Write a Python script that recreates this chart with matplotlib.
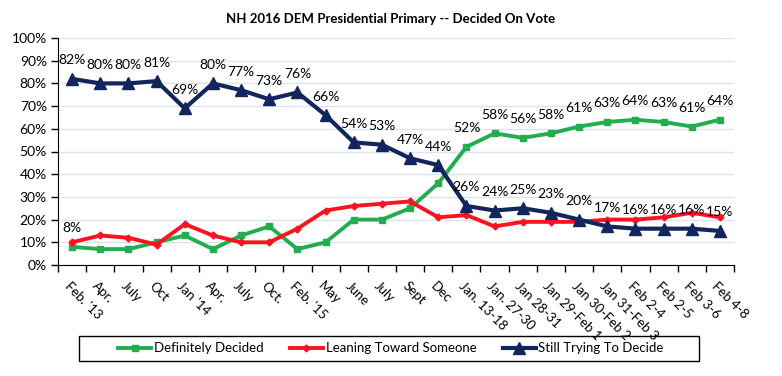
import matplotlib.pyplot as plt
from matplotlib.patches import Rectangle

# Категорії (хвилі опитування)
periods = ["Feb. '13", "Apr.", "July", "Oct", "Jan '14", "Apr.", "July", "Oct.",
           "Feb. '15", "May", "June", "July", "Sept", "Dec", "Jan. 13-18",
           "Jan. 27-30", "Jan 28-31", "Jan 29-Feb 1", "Jan 30-Feb 2",
           "Jan 31-Feb 3", "Feb 2-4", "Feb 2-5", "Feb 3-6", "Feb 4-8"]

definitely = [8, 7, 7, 10, 13, 7, 13, 17, 7, 10, 20, 20, 25, 36, 52,
              58, 56, 58, 61, 63, 64, 63, 61, 64]
leaning = [10, 13, 12, 9, 18, 13, 10, 10, 16, 24, 26, 27, 28, 21, 22,
           17, 19, 19, 19, 20, 20, 21, 23, 21]
still_deciding = [82, 80, 80, 81, 69, 80, 77, 73, 76, 66, 54, 53, 47, 44, 26,
                  24, 25, 23, 20, 17, 16, 16, 16, 15]

GREEN = '#23ad4f'
RED = '#fb1420'
NAVY = '#13255d'

plt.rcParams['font.family'] = ['Lato', 'DejaVu Sans']

fig = plt.figure(figsize=(7.82, 3.76), dpi=100)
ax = fig.add_axes([58 / 782, 1 - 265 / 376, (734 - 58) / 782, (265 - 38) / 376])

x = list(range(len(periods)))

ax.plot(x, definitely, color=GREEN, lw=2.8, marker='s', ms=5, label='Definitely Decided')
ax.plot(x, leaning, color=RED, lw=2.8, marker='D', ms=3.5, label='Leaning Toward Someone')
ax.plot(x, still_deciding, color=NAVY, lw=3, marker='^', ms=8, label='Still Trying To Decide')

# Підписи значень
for i, v in enumerate(still_deciding):
    ax.annotate(f'{v}%', (i, v), xytext=(0, 9), textcoords='offset points',
                ha='center', va='bottom', fontsize=10, color='black')
for i, v in enumerate(definitely):
    if i == 0 or i >= 14:
        ax.annotate(f'{v}%', (i, v), xytext=(0, 9), textcoords='offset points',
                    ha='center', va='bottom', fontsize=10, color='black')

ax.set_xlim(-0.5, len(periods) - 0.5)
ax.set_ylim(0, 100)
ax.set_yticks(range(0, 101, 10))
ax.set_yticklabels([f'{t}%' for t in range(0, 101, 10)], fontsize=10)
ax.yaxis.grid(True, color='#dce3ee', lw=1)
ax.set_axisbelow(True)

# Мітки між категоріями
ax.set_xticks([i - 0.5 for i in range(len(periods) + 1)])
ax.set_xticklabels([])
ax.tick_params(axis='x', length=5, width=1, direction='out')
ax.tick_params(axis='y', length=5, width=1, direction='out', pad=3)
for i, lab in enumerate(periods):
    ax.text(i - 0.05, -6.5, lab, rotation=-45, rotation_mode='anchor',
            ha='left', va='top', fontsize=9.5, transform=ax.transData)

for side in ['top', 'right']:
    ax.spines[side].set_visible(False)

fig.text(0.5, 1 - 19 / 376, 'NH 2016 DEM Presidential Primary -- Decided On Vote',
         ha='center', va='center', fontsize=9.5, fontweight='bold')

# Рамка легенди
fig.patches.append(Rectangle((79 / 782, 1 - 361 / 376), 620 / 782, 25 / 376,
                             transform=fig.transFigure, fill=False,
                             edgecolor='black', lw=1))
fig.legend(loc='center', bbox_to_anchor=(391 / 782, 1 - 348.5 / 376),
           ncol=3, fontsize=9.5, frameon=False, handlelength=2.5,
           columnspacing=2.0, handletextpad=0.2)

fig.savefig('out.png', dpi=100)
